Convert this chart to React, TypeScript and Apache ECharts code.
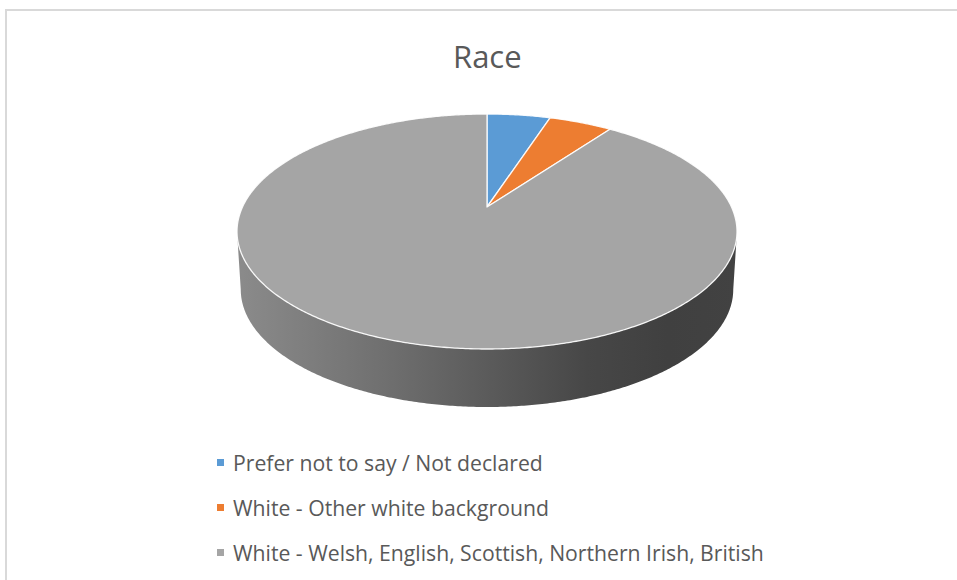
import React, { useEffect, useRef } from 'react';
import * as echarts from 'echarts';

const titleText = 'Race';
const categories = [
  'Prefer not to say / Not declared',
  'White - Other white background',
  'White - Welsh, English, Scottish, Northern Irish, British',
];
const values = [1, 1, 18];
const colors = ['#5B9BD5', '#ED7D31', '#A5A5A5'];

// perspective pie geometry (layout only)
const CX = 487;
const CY = 207;
const RX = 244.5;
const RY = 112.4;
const PERSP = 0.2085;
const DEPTH = 58;
const BOTTOM_SCALE = 0.985;
const FONT = "'Open Sans', 'Noto Sans', sans-serif";

function project(theta: number): number[] {
  const u = Math.sin(theta);
  const v = -Math.cos(theta);
  const w = 1 - PERSP * v;
  return [CX + (RX * u) / w, CY + (RY * v) / w];
}

function arcPoints(t1: number, t2: number): number[][] {
  const n = Math.max(2, Math.ceil((t2 - t1) / (Math.PI / 360)));
  const pts: number[][] = [];
  for (let i = 0; i <= n; i++) pts.push(project(t1 + ((t2 - t1) * i) / n));
  return pts;
}

function shade(color: string, f: number): string {
  const c = echarts.color.parse(color) as number[];
  const r = Math.round(c[0] * f);
  const g = Math.round(c[1] * f);
  const b = Math.round(c[2] * f);
  return `rgb(${r},${g},${b})`;
}

function sideFill(color: string) {
  const stops = [
    [0, 0.84],
    [0.3, 0.67],
    [0.5, 0.55],
    [0.7, 0.43],
    [0.86, 0.39],
    [1, 0.4],
  ].map(([o, f]) => ({ offset: o, color: shade(color, f) }));
  return new echarts.graphic.LinearGradient(CX - 250, 0, CX + 250, 0, stops, true);
}

export default function App() {
  const ref = useRef<HTMLDivElement>(null);

  useEffect(() => {
    if (!ref.current) return;
    const chart = echarts.init(ref.current, null, { renderer: 'svg' });
    const total = values.reduce((a, b) => a + b, 0);

    const series = categories.map((name, i) => {
      const before = values.slice(0, i).reduce((a, b) => a + b, 0);
      return {
        type: 'custom',
        name,
        coordinateSystem: 'none',
        itemStyle: { color: colors[i] },
        data: [[values[i]]],
        renderItem: (_params: any, api: any) => {
          const v = api.value(0) as number;
          const t1 = (before / total) * Math.PI * 2;
          const t2 = t1 + (v / total) * Math.PI * 2;
          const children: any[] = [];
          const tL = Math.acos(-PERSP);
          const tR = Math.PI * 2 - tL;
          const s = Math.max(t1, tL);
          const e = Math.min(t2, tR);
          if (e > s) {
            const top = arcPoints(s, e);
            const bottom = top
              .map((p) => [CX + (p[0] - CX) * BOTTOM_SCALE, p[1] + DEPTH])
              .reverse();
            children.push({
              type: 'polygon',
              z2: 1,
              shape: { points: top.concat(bottom) },
              style: { fill: sideFill(colors[i]) },
            });
          }
          children.push({
            type: 'polygon',
            z2: 10,
            shape: { points: [[CX, CY], ...arcPoints(t1, t2)] },
            style: {
              fill: colors[i],
              stroke: 'rgba(255,255,255,0.9)',
              lineWidth: 1.3,
              lineJoin: 'round',
            },
          });
          return { type: 'group', children };
        },
      };
    });

    chart.setOption({
      animation: false,
      backgroundColor: '#ffffff',
      title: {
        text: titleText,
        left: 453,
        top: 40,
        padding: 0,
        textStyle: {
          fontFamily: FONT,
          fontSize: 31,
          fontWeight: 'normal',
          color: '#595959',
        },
      },
      legend: {
        orient: 'vertical',
        left: 217,
        top: 452,
        padding: 0,
        icon: 'rect',
        itemWidth: 7,
        itemHeight: 7,
        itemGap: 24,
        selectedMode: false,
        data: categories,
        textStyle: {
          fontFamily: FONT,
          fontSize: 21.2,
          lineHeight: 21,
          color: '#595959',
          padding: [0, 0, 0, 4],
        },
      },
      graphic: [
        {
          type: 'rect',
          silent: true,
          shape: { x: 6, y: 10, width: 1000, height: 1000 },
          style: { fill: 'none', stroke: '#d9d9d9', lineWidth: 2 },
        },
      ],
      series,
    });

    return () => chart.dispose();
  }, []);

  return (
    <div
      ref={ref}
      style={{ position: 'fixed', left: 0, top: 0, width: 957, height: 580 }}
    />
  );
}
